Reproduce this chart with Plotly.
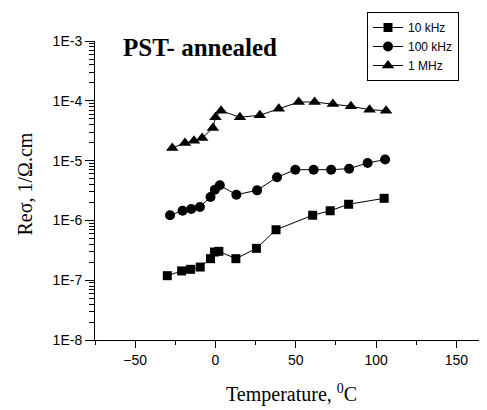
import plotly.graph_objects as go

# ---- data ----
temp_10k = [-30, -21.1, -15.5, -9.5, -3.1, -0.6, 2.1, 12.7, 25.5, 37.7, 60.5, 71.4, 82.9, 105]
cond_10k = [1.19e-7, 1.43e-7, 1.52e-7, 1.66e-7, 2.29e-7, 2.96e-7, 3.04e-7, 2.29e-7, 3.41e-7,
            6.98e-7, 1.22e-6, 1.45e-6, 1.86e-6, 2.34e-6]

temp_100k = [-28.3, -20.5, -15.1, -9.7, -3.1, -0.4, 2.7, 13.0, 25.9, 38.3, 49.7, 61.1, 72.0,
             83.2, 94.7, 105.6]
cond_100k = [1.22e-6, 1.45e-6, 1.55e-6, 1.68e-6, 2.46e-6, 3.26e-6, 3.86e-6, 2.69e-6, 3.18e-6,
             5.26e-6, 7.05e-6, 7.05e-6, 7.05e-6, 7.33e-6, 9.12e-6, 1.04e-5]

temp_1M = [-26.9, -19.0, -13.4, -8.3, -1.6, 0.0, 3.5, 15.2, 27.6, 39.4, 51.8, 61.7, 73.1,
           84.3, 95.9, 106.2]
cond_1M = [1.63e-5, 1.97e-5, 2.15e-5, 2.39e-5, 3.51e-5, 5.30e-5, 6.83e-5, 5.30e-5, 5.73e-5,
           7.38e-5, 9.55e-5, 9.55e-5, 8.83e-5, 8.09e-5, 7.10e-5, 6.83e-5]

series_names = ["10 kHz", "100 kHz", "1 MHz"]
series_symbols = ["square", "circle", "triangle-up"]

y_decades = [-8, -7, -6, -5, -4, -3]
y_tick_labels = ["1E-8", "1E-7", "1E-6", "1E-5", "1E-4", "1E-3"]

x_tick_values = [-50, 0, 50, 100, 150]

# ---- figure ----
SERIF = "Liberation Serif, Times New Roman, serif"
SANS = "Liberation Sans, Arial, sans-serif"

fig = go.Figure()
sizes = [9, 10, 11]
for t, c, name, sym, sz in zip([temp_10k, temp_100k, temp_1M],
                               [cond_10k, cond_100k, cond_1M],
                               series_names, series_symbols, sizes):
    fig.add_trace(go.Scatter(
        x=t, y=c, mode="lines+markers", name=name,
        line=dict(color="black", width=1),
        marker=dict(symbol=sym, size=sz, color="black"),
    ))

major_y = [10.0 ** d for d in y_decades]
minor_y = [k * 10.0 ** d for d in y_decades[:-1] for k in range(2, 10)]

fig.update_layout(
    width=487, height=410,
    margin=dict(l=87, r=0, t=33, b=78),
    paper_bgcolor="white", plot_bgcolor="white",
    font=dict(family=SANS, size=14, color="black"),
    showlegend=True,
    legend=dict(
        x=0.68, y=1.097, xanchor="left", yanchor="top",
        bgcolor="white", bordercolor="black", borderwidth=1,
        font=dict(family=SANS, size=12, color="black"),
        itemwidth=30, tracegroupgap=0,
    ),
    xaxis=dict(
        range=[-75, 174], tickvals=x_tick_values,
        ticks="outside", ticklen=7, tickcolor="black", tickwidth=1,
        showline=True, linecolor="black", linewidth=1,
        showgrid=False, zeroline=False,
        tickfont=dict(family=SANS, size=14),
        minor=dict(dtick=25, tick0=0, ticks="outside", ticklen=4, tickcolor="black", showgrid=False),
    ),
    yaxis=dict(
        type="log", range=[-8, -3],
        tickvals=major_y, ticktext=y_tick_labels,
        ticks="outside", ticklen=9, tickcolor="black", tickwidth=1,
        showline=True, linecolor="black", linewidth=1,
        showgrid=False, zeroline=False,
        tickfont=dict(family=SANS, size=14),
        minor=dict(tickvals=minor_y, ticks="outside", ticklen=5, tickcolor="black", showgrid=False),
    ),
)

fig.add_annotation(
    text="<b>PST- annealed</b>", xref="paper", yref="paper",
    x=0.065, y=0.977, xanchor="left", yanchor="middle", showarrow=False,
    font=dict(family=SERIF, size=25, color="black"),
)
fig.add_annotation(
    text="Reσ, 1/Ω.cm", xref="paper", yref="paper",
    x=-0.175, y=0.52, xanchor="center", yanchor="middle", textangle=-90, showarrow=False,
    font=dict(family=SERIF, size=20, color="black"),
)
fig.add_annotation(
    text="Temperature, <sup>0</sup>C", xref="paper", yref="paper",
    x=0.49, y=-0.18, xanchor="center", yanchor="middle", showarrow=False,
    font=dict(family=SERIF, size=20, color="black"),
)

fig.write_html("out.html")
